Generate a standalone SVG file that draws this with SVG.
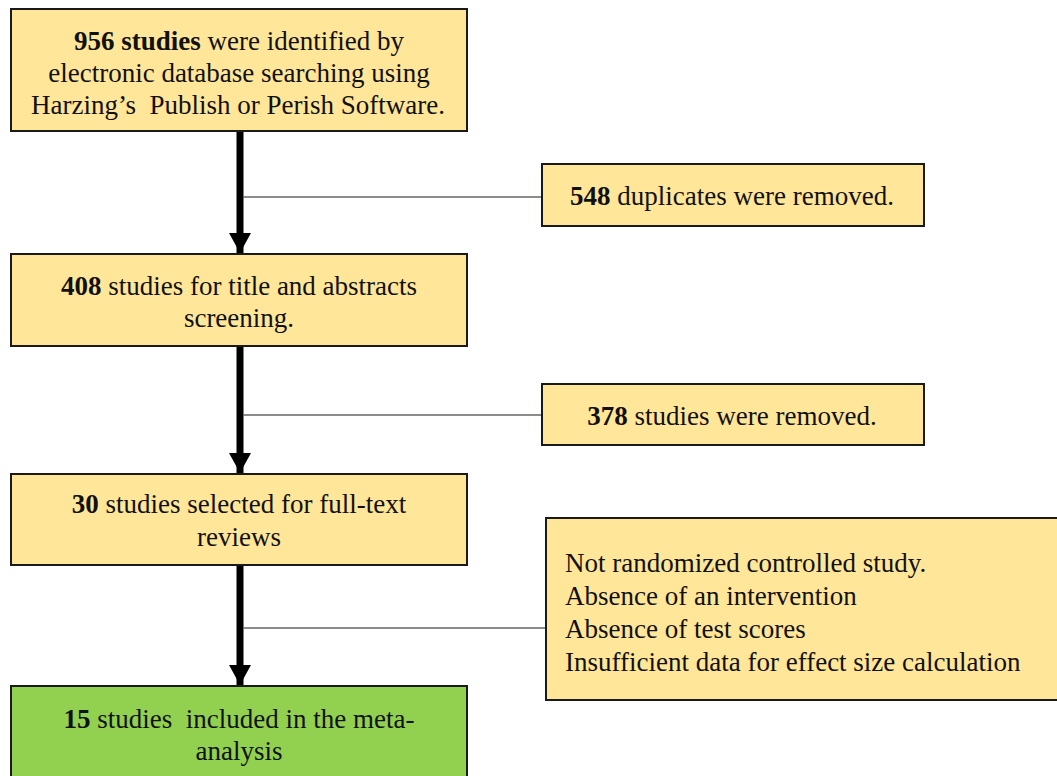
<svg xmlns="http://www.w3.org/2000/svg" width="1057" height="776" viewBox="0 0 1057 776">
<style>
.box{fill:#FFE699;stroke:#1a1a1a;stroke-width:2}
.green{fill:#92D050;stroke:#1a1a1a;stroke-width:2}
text{font-family:"Liberation Serif","Times New Roman",serif;font-size:27px;fill:#111}
.c{text-anchor:middle}
.b{font-weight:bold}
.shaft{stroke:#000;stroke-width:7;fill:none}
.thin{stroke:#666;stroke-width:1.5;fill:none}
</style>
<defs>
<marker id="ah" markerUnits="userSpaceOnUse" markerWidth="22" markerHeight="22" refX="20" refY="11" orient="auto">
<path d="M0,0 L20,11 L0,22 Z" fill="#000"/>
</marker>
</defs>
<g id="connectors">
<line class="shaft" x1="240" y1="131" x2="240" y2="253" marker-end="url(#ah)"/>
<line class="shaft" x1="240" y1="346" x2="240" y2="473" marker-end="url(#ah)"/>
<line class="shaft" x1="240" y1="565" x2="240" y2="685" marker-end="url(#ah)"/>
<line class="thin" x1="243" y1="197" x2="542" y2="197"/>
<line class="thin" x1="243" y1="415" x2="542" y2="415"/>
<line class="thin" x1="243" y1="628" x2="546" y2="628"/>
</g>
<g id="n1">
<rect class="box" x="11" y="9" width="456" height="122"/>
<text class="c" x="239" y="50"><tspan class="b">956 studies</tspan> were identified by</text>
<text class="c" x="239" y="82">electronic database searching using</text>
<text class="c" x="238" y="114" xml:space="preserve">Harzing’s  Publish or Perish Software.</text>
</g>
<g id="n2">
<rect class="box" x="542" y="164" width="382" height="62"/>
<text class="c" x="732" y="205"><tspan class="b">548</tspan> duplicates were removed.</text>
</g>
<g id="n3">
<rect class="box" x="11" y="254" width="456" height="92"/>
<text class="c" x="239" y="295"><tspan class="b">408</tspan> studies for title and abstracts</text>
<text class="c" x="239" y="327">screening.</text>
</g>
<g id="n4">
<rect class="box" x="542" y="384" width="382" height="61"/>
<text class="c" x="732" y="425"><tspan class="b">378</tspan> studies were removed.</text>
</g>
<g id="n5">
<rect class="box" x="11" y="474" width="456" height="91"/>
<text class="c" x="239" y="513"><tspan class="b">30</tspan> studies selected for full-text</text>
<text class="c" x="239" y="546">reviews</text>
</g>
<g id="n6">
<rect class="box" x="546" y="518" width="520" height="182"/>
<text x="565" y="572">Not randomized controlled study.</text>
<text x="565" y="605">Absence of an intervention</text>
<text x="565" y="638">Absence of test scores</text>
<text x="565" y="671">Insufficient data for effect size calculation</text>
</g>
<g id="n7">
<rect class="green" x="11" y="686" width="456" height="100"/>
<text class="c" x="239" y="728" xml:space="preserve"><tspan class="b">15</tspan> studies  included in the meta-</text>
<text class="c" x="239" y="760">analysis</text>
</g>
</svg>
